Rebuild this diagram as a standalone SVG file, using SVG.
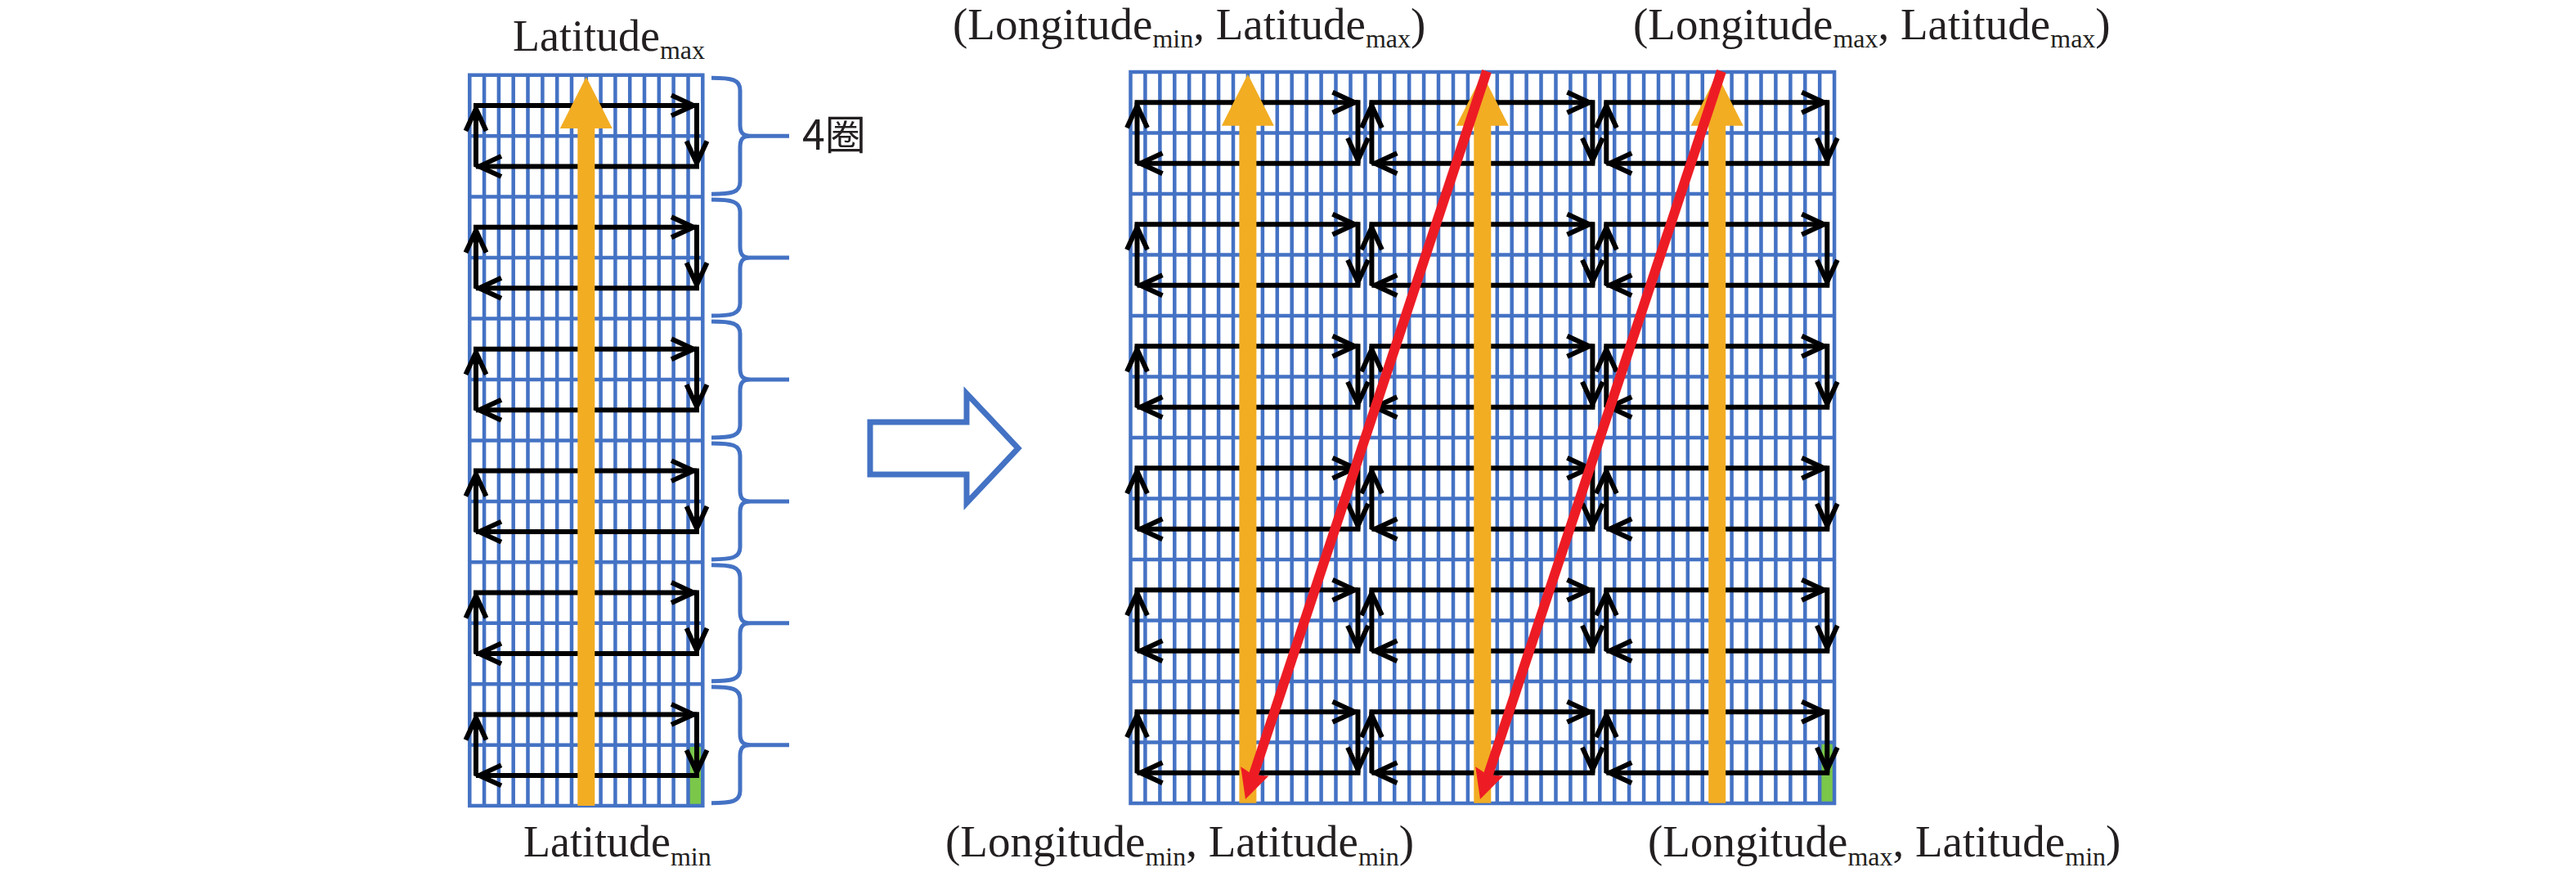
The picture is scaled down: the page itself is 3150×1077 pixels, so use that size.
<svg xmlns="http://www.w3.org/2000/svg" xmlns:xlink="http://www.w3.org/1999/xlink" width="3150" height="1077" viewBox="0 0 3150 1077">
<style>
.t{font-family:"Liberation Serif","Times New Roman",serif;fill:#231F20;font-size:55px}
.t1{font-size:54px}
.s{font-size:32px}
.grid{fill:none;stroke:#4472C4;stroke-width:4.5;stroke-linecap:square}
.lp{fill:none;stroke:#000;stroke-width:6;marker-end:url(#chev)}
.yel{fill:#F2AD23}
.red{fill:none;stroke:#ED1C24;stroke-width:12;marker-end:url(#redhead)}
.brace{fill:none;stroke:#4472C4;stroke-width:5}
.green{fill:#7AC74A}
</style>
<defs>
<marker id="chev" markerUnits="userSpaceOnUse" orient="auto" viewBox="-36 -18 40 36" refX="0" refY="0" markerWidth="40" markerHeight="36" overflow="visible">
<path d="M-31,-12.5 L-4,0 L-31,12.5" fill="none" stroke="#000" stroke-width="6"/>
</marker>
<marker id="redhead" markerUnits="userSpaceOnUse" orient="auto" viewBox="-12 -22 44 44" refX="0" refY="0" markerWidth="44" markerHeight="44" overflow="visible">
<path d="M28,0 L-8,-18 L-3,0 L-8,18 Z" fill="#ED1C24"/>
</marker>
<g id="loop">
<path class="lp" d="M0,74.5 L0,0"/>
<path class="lp" d="M-3,0 L270,0"/>
<path class="lp" d="M270,-3 L270,74.5"/>
<path class="lp" d="M273,74.5 L0,74.5"/>
</g>
<path id="yarrow" d="M0,0 L32,63 L10.5,63 L10.5,891 L-10.5,891 L-10.5,63 L-32,63 Z"/>
<path id="brace" d="M0,0 C25,0 35,2 35,15 L35,57 C35,67 38,71 48,71 L95,71 M48,71 C38,71 35,75 35,85 L35,127 C35,140 25,142 0,142"/>
</defs>
<rect width="3150" height="1077" fill="#fff"/>

<g id="left-grid">
<rect class="green" x="841.5" y="910.7" width="17.8" height="74.4"/>
<path class="grid" d="M574.3,91.7V985.1M592.1,91.7V985.1M609.9,91.7V985.1M627.7,91.7V985.1M645.5,91.7V985.1M663.4,91.7V985.1M681.2,91.7V985.1M699,91.7V985.1M716.8,91.7V985.1M734.6,91.7V985.1M752.4,91.7V985.1M770.2,91.7V985.1M788,91.7V985.1M805.8,91.7V985.1M823.6,91.7V985.1M841.5,91.7V985.1M859.3,91.7V985.1M574.3,91.7H859.3M574.3,166.2H859.3M574.3,240.6H859.3M574.3,315.1H859.3M574.3,389.5H859.3M574.3,464H859.3M574.3,538.4H859.3M574.3,612.9H859.3M574.3,687.3H859.3M574.3,761.8H859.3M574.3,836.2H859.3M574.3,910.7H859.3M574.3,985.1H859.3"/>
</g>

<g id="right-grid">
<rect class="green" x="2225.2" y="907.5" width="17.9" height="74.5"/>
<path class="grid" d="M1382.5,88V982M1400.4,88V982M1418.4,88V982M1436.3,88V982M1454.2,88V982M1472.2,88V982M1490.1,88V982M1508,88V982M1525.9,88V982M1543.9,88V982M1561.8,88V982M1579.7,88V982M1597.7,88V982M1615.6,88V982M1633.5,88V982M1651.5,88V982M1669.4,88V982M1687.3,88V982M1705.2,88V982M1723.2,88V982M1741.1,88V982M1759,88V982M1777,88V982M1794.9,88V982M1812.8,88V982M1830.8,88V982M1848.7,88V982M1866.6,88V982M1884.5,88V982M1902.5,88V982M1920.4,88V982M1938.3,88V982M1956.3,88V982M1974.2,88V982M1992.1,88V982M2010.1,88V982M2028,88V982M2045.9,88V982M2063.8,88V982M2081.8,88V982M2099.7,88V982M2117.6,88V982M2135.6,88V982M2153.5,88V982M2171.4,88V982M2189.4,88V982M2207.3,88V982M2225.2,88V982M2243.1,88V982M1382.5,88H2243.1M1382.5,162.5H2243.1M1382.5,237H2243.1M1382.5,311.5H2243.1M1382.5,386H2243.1M1382.5,460.5H2243.1M1382.5,535H2243.1M1382.5,609.5H2243.1M1382.5,684H2243.1M1382.5,758.5H2243.1M1382.5,833H2243.1M1382.5,907.5H2243.1M1382.5,982H2243.1"/>
</g>

<g id="braces">
<use xlink:href="#brace" href="#brace" class="brace" x="870" y="95.2"/>
<use xlink:href="#brace" href="#brace" class="brace" x="870" y="244.1"/>
<use xlink:href="#brace" href="#brace" class="brace" x="870" y="393"/>
<use xlink:href="#brace" href="#brace" class="brace" x="870" y="541.9"/>
<use xlink:href="#brace" href="#brace" class="brace" x="870" y="690.8"/>
<use xlink:href="#brace" href="#brace" class="brace" x="870" y="839.7"/>
</g>

<g id="block-arrow">
<path d="M1064,516 L1182,516 L1182,481 L1245,548 L1182,615 L1182,580 L1064,580 Z" fill="#fff" stroke="#4472C4" stroke-width="7"/>
</g>

<g id="connectors">
<g id="left-loops">
<use href="#loop" x="582" y="128.9"/>
<use href="#loop" x="582" y="277.8"/>
<use href="#loop" x="582" y="426.7"/>
<use href="#loop" x="582" y="575.6"/>
<use href="#loop" x="582" y="724.5"/>
<use href="#loop" x="582" y="873.4"/>
</g>
<g id="right-loops">
<use href="#loop" x="1390.5" y="125.25"/>
<use href="#loop" x="1390.5" y="274.25"/>
<use href="#loop" x="1390.5" y="423.25"/>
<use href="#loop" x="1390.5" y="572.25"/>
<use href="#loop" x="1390.5" y="721.25"/>
<use href="#loop" x="1390.5" y="870.25"/>
<use href="#loop" x="1677.4" y="125.25"/>
<use href="#loop" x="1677.4" y="274.25"/>
<use href="#loop" x="1677.4" y="423.25"/>
<use href="#loop" x="1677.4" y="572.25"/>
<use href="#loop" x="1677.4" y="721.25"/>
<use href="#loop" x="1677.4" y="870.25"/>
<use href="#loop" x="1964.3" y="125.25"/>
<use href="#loop" x="1964.3" y="274.25"/>
<use href="#loop" x="1964.3" y="423.25"/>
<use href="#loop" x="1964.3" y="572.25"/>
<use href="#loop" x="1964.3" y="721.25"/>
<use href="#loop" x="1964.3" y="870.25"/>
</g>
<g id="yellow-arrows" class="yel">
<use href="#yarrow" x="716.8" y="94"/>
<use href="#yarrow" x="1525.9" y="90.7"/>
<use href="#yarrow" x="1812.8" y="90.7"/>
<use href="#yarrow" x="2099.7" y="90.7"/>
</g>
<g id="red-arrows">
<path class="red" d="M1818,87 L1531.8,950.4"/>
<path class="red" d="M2105,87 L1818.8,950.4"/>
</g>
</g>

<g id="labels">
<text class="t t1" x="627" y="62">Latitude<tspan class="s" dy="10">max</tspan></text>
<text class="t t1" x="640" y="1047">Latitude<tspan class="s" dy="11">min</tspan></text>
<text x="981" y="183" style="font-family:'Noto Sans CJK SC','Noto Sans',sans-serif;font-size:50px;fill:#231F20">4圈</text>
<text class="t" x="1165" y="48">(Longitude<tspan class="s" dy="10">min</tspan><tspan dy="-10">, Latitude</tspan><tspan class="s" dy="10">max</tspan><tspan dy="-10">)</tspan></text>
<text class="t" x="1997" y="48">(Longitude<tspan class="s" dy="10">max</tspan><tspan dy="-10">, Latitude</tspan><tspan class="s" dy="10">max</tspan><tspan dy="-10">)</tspan></text>
<text class="t" x="1156" y="1047">(Longitude<tspan class="s" dy="11">min</tspan><tspan dy="-11">, Latitude</tspan><tspan class="s" dy="11">min</tspan><tspan dy="-11">)</tspan></text>
<text class="t" x="2015" y="1047">(Longitude<tspan class="s" dy="11">max</tspan><tspan dy="-11">, Latitude</tspan><tspan class="s" dy="11">min</tspan><tspan dy="-11">)</tspan></text>
</g>
</svg>
